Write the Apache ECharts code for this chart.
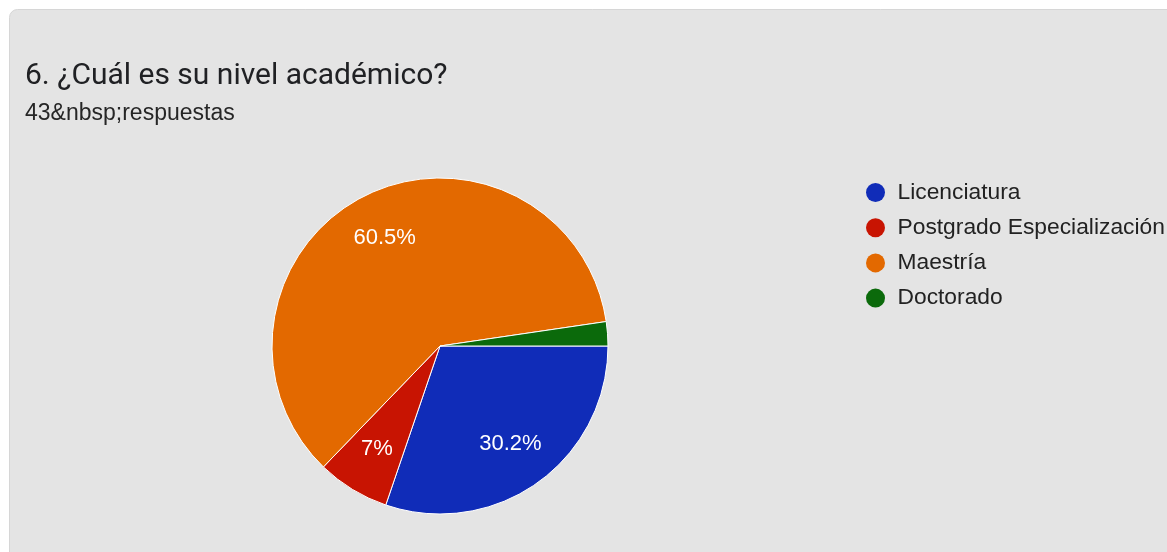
<!DOCTYPE html>
<html>
<head>
<meta charset="utf-8">
<script src="https://cdn.jsdelivr.net/npm/echarts@6/dist/echarts.min.js"></script>
<style>
  html, body { margin: 0; padding: 0; background: #ffffff; }
  #chart { width: 1167px; height: 552px; }
</style>
</head>
<body>
<div id="chart"></div>
<script>
// Survey question 6: academic level of 43 respondents
const titleText = '6. ¿Cuál es su nivel académico?';
const subtitleText = '43&nbsp;respuestas';
const categories = ['Licenciatura', 'Postgrado Especialización', 'Maestría', 'Doctorado'];
const counts = [13, 3, 26, 1];
const colors = ['#102cb8', '#c81402', '#e36900', '#0b6a0b'];

const total = counts.reduce((a, b) => a + b, 0);
const pieData = categories.map((name, i) => ({
  name: name,
  value: counts[i],
  itemStyle: { color: colors[i] }
}));

// Percent text like "30.2%" / "7%"; tiny slices stay unlabelled
function pctLabel(p) {
  const pct = p.value / total * 100;
  if (pct < 5) return '';
  return parseFloat(pct.toFixed(1)) + '%';
}

const chart = echarts.init(document.getElementById('chart'), null, { renderer: 'canvas' });
chart.setOption({
  backgroundColor: '#ffffff',
  animation: false,
  graphic: [
    {
      type: 'rect',
      z: -10,
      shape: { x: 9.5, y: 9.5, width: 1170, height: 560, r: [8, 0, 0, 0] },
      style: { fill: '#e4e4e4', stroke: '#d6d6d6', lineWidth: 1 }
    }
  ],
  title: {
    text: titleText,
    subtext: subtitleText,
    left: 20,
    top: 56,
    itemGap: 11,
    textStyle: { fontFamily: 'Roboto', fontSize: 30, fontWeight: 'normal', color: '#202124' },
    subtextStyle: { fontFamily: 'Liberation Sans', fontSize: 23, fontWeight: 'normal', color: '#262626' }
  },
  legend: {
    orient: 'vertical',
    left: 861,
    top: 176,
    icon: 'circle',
    itemWidth: 20,
    itemHeight: 19,
    itemGap: 12.2,
    selectedMode: false,
    data: categories,
    itemStyle: { borderWidth: 0 },
    textStyle: {
      fontFamily: 'Liberation Sans',
      fontSize: 22.8,
      lineHeight: 22,
      color: '#222222',
      padding: [0, 0, 0, 7]
    }
  },
  series: [
    {
      type: 'pie',
      center: [440, 346],
      radius: 168,
      startAngle: 0,
      clockwise: true,
      data: pieData,
      label: { show: false },
      labelLine: { show: false },
      itemStyle: { borderColor: '#ffffff', borderWidth: 1 },
      emphasis: { disabled: true }
    },
    {
      // Percentage labels sit further out than the default inner spot
      type: 'pie',
      center: [440, 346],
      radius: [0, 236],
      startAngle: 0,
      clockwise: true,
      silent: true,
      data: pieData.map(d => ({ name: d.name, value: d.value, itemStyle: { color: 'rgba(0,0,0,0)' } })),
      itemStyle: { color: 'rgba(0,0,0,0)', borderWidth: 0 },
      label: {
        show: true,
        position: 'inside',
        formatter: pctLabel,
        fontFamily: 'Liberation Sans',
        fontSize: 22,
        color: '#ffffff'
      },
      labelLine: { show: false },
      emphasis: { disabled: true },
      legendHoverLink: false
    }
  ]
});
</script>
</body>
</html>
